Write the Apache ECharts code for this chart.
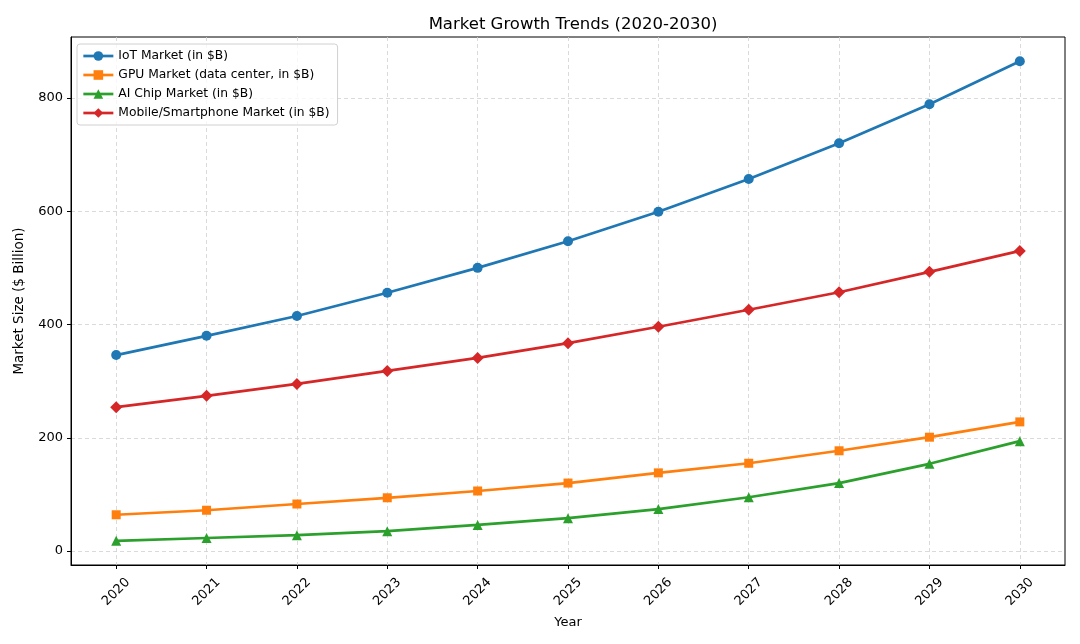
<!DOCTYPE html>
<html>
<head>
<meta charset="utf-8">
<script src="https://cdn.jsdelivr.net/npm/echarts@6/dist/echarts.min.js"></script>
<style>
  html, body { margin: 0; padding: 0; background: #fff; }
  #chart { width: 1080px; height: 644px; }
</style>
</head>
<body>
<div id="chart"></div>
<script>
const years = [2020, 2021, 2022, 2023, 2024, 2025, 2026, 2027, 2028, 2029, 2030]
const iotMarket = [346, 380, 415, 456, 500, 547, 599, 657, 720, 789, 865]
const gpuMarket = [64, 72, 83, 94, 106, 120, 138, 155, 177, 201, 228]
const aiChipMarket = [18, 23, 28, 35, 46, 58, 74, 95, 120, 154, 194]
const mobileMarket = [254, 274, 295, 318, 341, 367, 396, 426, 457, 493, 530]
const yTicks = [0, 200, 400, 600, 800]

const FONT = 'DejaVu Sans'
const GRID_LINE = { show: true, lineStyle: { color: '#d0d0d0', type: [4, 3], width: 0.8 } }

const chart = echarts.init(document.getElementById('chart'))

const makeSeries = (name, values, color, symbol, size) => ({
  name,
  type: 'line',
  data: years.map((y, i) => [y, values[i]]),
  symbol,
  symbolSize: size,
  showSymbol: true,
  color,
  lineStyle: { width: 2.7, color },
  itemStyle: { color },
  emphasis: { disabled: true }
})

chart.setOption({
  animation: false,
  title: {
    text: 'Market Growth Trends (2020-2030)',
    left: 568,
    textAlign: 'center',
    top: 11,
    textStyle: { fontFamily: FONT, fontSize: 16.5, fontWeight: 'normal', color: '#000' }
  },
  legend: {
    orient: 'vertical',
    left: 77,
    top: 44,
    padding: [6, 8, 6, 5],
    itemGap: 7,
    itemWidth: 30,
    itemHeight: 12,
    backgroundColor: 'rgba(255,255,255,0.8)',
    borderColor: '#d0d0d0',
    borderWidth: 1,
    borderRadius: 3,
    lineStyle: { width: 2.7 },
    textStyle: { fontFamily: FONT, fontSize: 12.3, color: '#000' },
    data: ['IoT Market (in $B)', 'GPU Market (data center, in $B)', 'AI Chip Market (in $B)', 'Mobile/Smartphone Market (in $B)']
  },
  grid: {
    left: 71,
    right: 15,
    top: 37,
    bottom: 79,
    show: true,
    borderColor: '#000',
    borderWidth: 1,
    containLabel: false
  },
  xAxis: {
    type: 'value',
    min: 2019.5,
    max: 2030.5,
    name: 'Year',
    nameLocation: 'middle',
    nameGap: 51,
    nameTextStyle: { fontFamily: FONT, fontSize: 13, color: '#000' },
    axisLine: { onZero: false, lineStyle: { color: '#000' } },
    axisTick: { show: true, length: 4, lineStyle: { color: '#000' }, customValues: years },
    axisLabel: {
      rotate: 45,
      fontFamily: FONT,
      fontSize: 13,
      color: '#000',
      margin: 27,
      align: 'center',
      verticalAlign: 'middle',
      customValues: years,
      formatter: (v) => String(v)
    },
    splitLine: GRID_LINE
  },
  yAxis: {
    type: 'value',
    min: -24.7,
    max: 907.7,
    name: 'Market Size ($ Billion)',
    nameLocation: 'middle',
    nameGap: 45,
    nameTextStyle: { fontFamily: FONT, fontSize: 13.5, color: '#000' },
    axisLine: { show: true, onZero: false, lineStyle: { color: '#000' } },
    axisTick: { show: true, length: 4, lineStyle: { color: '#000' }, customValues: yTicks },
    axisLabel: { fontFamily: FONT, fontSize: 13, color: '#000', margin: 8, customValues: yTicks },
    splitLine: GRID_LINE
  },
  series: [
    makeSeries('IoT Market (in $B)', iotMarket, '#1f77b4', 'circle', 10),
    makeSeries('GPU Market (data center, in $B)', gpuMarket, '#ff7f0e', 'rect', 9),
    makeSeries('AI Chip Market (in $B)', aiChipMarket, '#2ca02c', 'triangle', 10),
    makeSeries('Mobile/Smartphone Market (in $B)', mobileMarket, '#d62728', 'diamond', 12)
  ]
})
</script>
</body>
</html>
